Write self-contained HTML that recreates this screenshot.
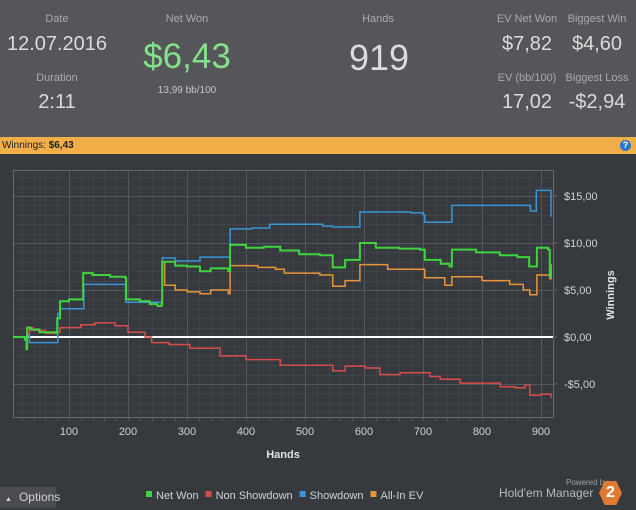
<!DOCTYPE html>
<html><head><meta charset="utf-8"><style>
body{margin:0;width:636px;height:508px;overflow:hidden;background:#36393d;font-family:"Liberation Sans",sans-serif;}
#hdr{position:absolute;left:0;top:0;width:636px;height:137px;background:#545659;}
.t{position:absolute;color:#b8babc;transform:translateX(-50%);white-space:nowrap;}
.l{font-size:11px;color:#a9abad;}
.v{font-size:20px;color:#dadbdc;}
#bar{position:absolute;left:0;top:137px;width:636px;height:17px;background:#f2ae48;font-size:10px;line-height:17px;color:#222;}
</style></head><body>
<div id="hdr">
<div class="t l" style="left:57px;top:13px">Date</div>
<div class="t v" style="left:57px;top:33px">12.07.2016</div>
<div class="t l" style="left:57px;top:72px">Duration</div>
<div class="t v" style="left:57px;top:91px">2:11</div>
<div class="t l" style="left:187px;top:13px">Net Won</div>
<div class="t" style="left:187px;top:37px;font-size:35px;color:#84e08a">$6,43</div>
<div class="t" style="left:187px;top:85px;font-size:10px;color:#c4c6c8">13,99 bb/100</div>
<div class="t l" style="left:378px;top:13px">Hands</div>
<div class="t" style="left:379px;top:37px;font-size:36px;color:#dadbdc">919</div>
<div class="t l" style="left:527px;top:13px">EV Net Won</div>
<div class="t v" style="left:527px;top:33px">$7,82</div>
<div class="t l" style="left:597px;top:13px">Biggest Win</div>
<div class="t v" style="left:597px;top:33px">$4,60</div>
<div class="t l" style="left:527px;top:72px">EV (bb/100)</div>
<div class="t v" style="left:527px;top:91px">17,02</div>
<div class="t l" style="left:597px;top:72px">Biggest Loss</div>
<div class="t v" style="left:597px;top:91px">-$2,94</div>
</div>
<div id="bar"><span style="margin-left:2px">Winnings: <b>$6,43</b></span>
<span style="position:absolute;right:5px;top:3px;width:11px;height:11px;border-radius:50%;background:#2a78c8;color:#fff;font-size:9px;line-height:11px;text-align:center;font-weight:bold">?</span></div>
<svg id="chart" width="636" height="508" style="position:absolute;left:0;top:0"></svg>
<div style="position:absolute;left:0;top:487px;width:56px;height:21px;background:#4a4c50;color:#d0d2d4;font-size:12px;line-height:21px"><span style="font-size:7px;margin:0 7px 0 5px">&#9650;</span>Options</div>
<div style="position:absolute;left:566px;top:478px;font-size:8px;color:#a0a2a4">Powered by</div>
<div style="position:absolute;left:499px;top:486px;font-size:12px;color:#b8babc">Hold'em Manager</div>
<div style="position:absolute;left:599px;top:481px;width:23px;height:24px;background:#e07a30;clip-path:polygon(25% 0,75% 0,100% 50%,75% 100%,25% 100%,0 50%);color:#fff;font-weight:bold;font-size:16px;text-align:center;line-height:24px">2</div>
<script>
const netHands=[5,25,28,29,35,50,78,80,85,100,120,124,140,170,195,197,220,237,250,257,258,280,300,322,340,370,373,400,430,458,490,525,547,568,590,593,620,660,695,703,730,745,749,790,830,860,880,892,893,912,915,917];
const netVals=[0,-0.3,-1.3,1.0,0.8,0.5,0.4,2.0,3.8,4.0,4.0,6.8,6.6,6.4,6.3,4.0,3.8,3.5,3.3,3.5,8.0,7.6,7.5,7.0,7.3,7.0,9.8,9.5,9.6,9.2,8.8,8.7,7.4,8.2,8.2,10.0,9.5,9.4,9.3,8.2,7.8,7.5,9.3,9.0,8.7,8.5,7.5,7.5,9.5,9.3,6.4,7.5];
const nsdHands=[30,33,39,60,80,85,120,144,178,200,229,240,270,305,356,400,458,525,547,568,602,627,661,712,729,763,831,856,873,881,900,917];
const nsdVals=[0.3,1.0,0.7,0.4,0.5,1.0,1.3,1.5,1.2,0.5,0.0,-0.6,-0.8,-1.2,-2.0,-2.4,-3.0,-3.0,-3.6,-3.1,-3.3,-4.0,-3.8,-4.2,-4.5,-4.9,-5.3,-5.4,-5.1,-6.2,-6.1,-6.5];
const sdHands=[5,28,30,33,80,81,85,124,125,195,196,257,258,280,320,322,372,373,410,440,525,530,547,592,593,680,700,703,748,749,880,882,890,892,915,917];
const sdVals=[0,0,0.2,-0.6,-0.6,2.5,3.0,3.0,5.6,5.6,3.7,3.7,8.4,8.1,8.1,8.5,8.5,11.5,11.6,12.0,12.0,11.8,11.7,11.7,13.3,13.2,13.0,12.2,12.2,14.0,14.0,13.4,13.4,15.6,15.6,12.8];
const evHands=[5,25,28,29,35,50,78,80,85,100,120,124,140,170,195,197,220,237,250,257,258,262,280,300,322,340,370,373,420,450,465,525,547,568,590,593,640,695,703,737,749,800,847,870,881,892,893,915,917];
const evVals=[0,-0.3,-1.3,1.0,0.8,0.5,0.4,2.0,3.8,4.0,4.0,6.8,6.6,6.4,6.3,4.0,3.8,3.5,3.3,3.5,8.0,5.5,5.0,4.8,4.6,5.0,4.6,7.6,7.4,7.2,6.8,6.6,5.4,6.0,6.0,7.7,7.2,7.2,6.3,5.5,6.4,6.0,5.6,5.0,4.5,4.5,6.6,6.2,7.8];
const xTicks=[100,200,300,400,500,600,700,800,900];
const yTicks=[15,10,5,0,-5];
const yLabels=["$15,00","$10,00","$5,00","$0,00","-$5,00"];
const legendNames=["Net Won","Non Showdown","Showdown","All-In EV"];
const colors=["#3ed43e","#d84c4c","#3a96d8","#e8953a"];

const L=13,R=553,T=170,B=417;
const xs=h=>69+(h-100)*0.59;
const ys=v=>337-v*9.4;
const svg=document.getElementById('chart');
const NS='http://www.w3.org/2000/svg';
function mk(tag,attrs){const e=document.createElementNS(NS,tag);for(const k in attrs)e.setAttribute(k,attrs[k]);svg.appendChild(e);return e;}
for(let h=0;h<=920;h+=20){const x=Math.round(xs(h))+0.5;if(x<L||x>R)continue;const e=mk('line',{x1:x,x2:x,y1:T,y2:B,stroke:h%100?'#404347':'#55585c','stroke-width':1});


if(h%100==0||true){const k=mk('line',{x1:x,x2:x,y1:B,y2:B+4,stroke:'#55585c'});

}}
for(let v=-8;v<=17;v++){const y=Math.round(ys(v))+0.5;if(y<T||y>B)continue;const e=mk('line',{x1:L,x2:R,y1:y,y2:y,stroke:v%5?'#404347':'#55585c','stroke-width':1});

}
const fr=mk('rect',{x:L+0.5,y:T+0.5,width:R-L,height:B-T,fill:'none',stroke:'#65686c'});


const zl=mk('line',{x1:L,x2:R,y1:ys(0),y2:ys(0),stroke:'#ffffff','stroke-width':2});


xTicks.forEach(h=>{const t=mk('text',{x:xs(h),y:435,fill:'#d0d2d4','font-size':11,'text-anchor':'middle','font-family':'Liberation Sans'});t.textContent=h;

});
yTicks.forEach((v,i)=>{const t=mk('text',{x:564,y:ys(v)+4,fill:'#d0d2d4','font-size':11,'font-family':'Liberation Sans'});t.textContent=yLabels[i];


const k=mk('line',{x1:R,x2:R+4,y1:ys(v),y2:ys(v),stroke:'#65686c'});

});
const xt=mk('text',{x:283,y:458,fill:'#e0e2e4','font-size':11,'font-weight':'bold','text-anchor':'middle','font-family':'Liberation Sans'});xt.textContent='Hands';


const yt=mk('text',{x:0,y:0,fill:'#e0e2e4','font-size':11,'font-weight':'bold','text-anchor':'middle','font-family':'Liberation Sans',transform:'translate(614,295) rotate(-90)'});yt.textContent='Winnings';


const series=[[netHands,netVals],[nsdHands,nsdVals],[sdHands,sdVals],[evHands,evVals]];
const names=['net-won-line','non-showdown-line','showdown-line','all-in-ev-line'];
[2,1,3,0].forEach(i=>{const [h,v]=series[i];
let d='M'+xs(h[0]).toFixed(1)+','+ys(v[0]).toFixed(1);
for(let j=1;j<h.length;j++){d+='H'+xs(h[j]).toFixed(1)+'V'+ys(v[j]).toFixed(1);}
const p=mk('path',{d:d,fill:'none',stroke:colors[i],'stroke-width':i==0?2:1.5});

});
let lx=146;
legendNames.forEach((n,i)=>{const r=mk('rect',{x:lx,y:491,width:6,height:6,fill:colors[i]});


const t=mk('text',{x:lx+10,y:499,fill:'#d0d2d4','font-size':11,'font-family':'Liberation Sans'});t.textContent=n;


lx+=10+t.getComputedTextLength()+7;});
</script>
</body></html>
